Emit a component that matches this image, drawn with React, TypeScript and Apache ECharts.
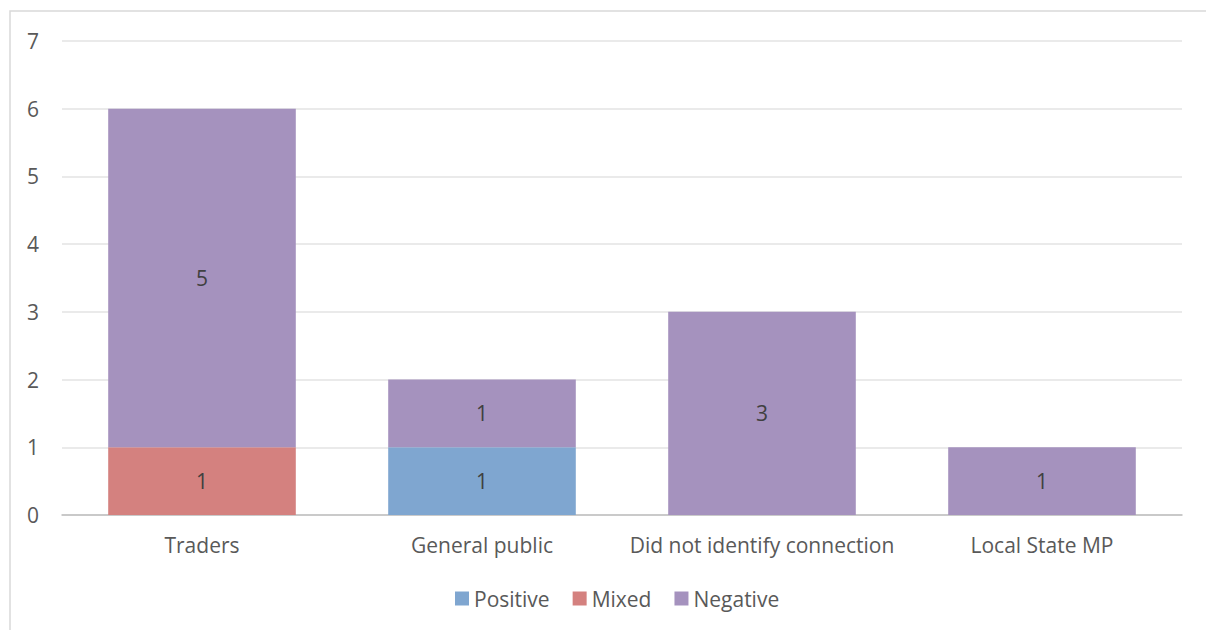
import React, { useEffect, useRef } from "react";
import * as echarts from "echarts";

const categories = ["Traders", "General public", "Did not identify connection", "Local State MP"];
const positiveValues = [0, 1, 0, 0];
const mixedValues = [1, 0, 0, 0];
const negativeValues = [5, 1, 3, 1];
const seriesNames = ["Positive", "Mixed", "Negative"];
const seriesColors = ["#7FA6D0", "#D4817F", "#A592BE"];

const FONT = "'Open Sans', 'Noto Sans', sans-serif";

export default function App() {
  const ref = useRef<HTMLDivElement>(null);
  useEffect(() => {
    if (!ref.current) return;
    const chart = echarts.init(ref.current, null, { renderer: "svg" });
    const dataSets = [positiveValues, mixedValues, negativeValues];
    chart.setOption({
      animation: false,
      backgroundColor: "#ffffff",
      textStyle: { fontFamily: FONT },
      graphic: [
        {
          type: "rect",
          shape: { x: 10, y: 11, width: 1220, height: 650 },
          style: { fill: "none", stroke: "#D9D9D9", lineWidth: 1.5 },
          silent: true,
          z: -1,
        },
      ],
      grid: { left: 62, right: 24, top: 41, bottom: 115, containLabel: false },
      legend: {
        top: 583,
        left: 450,
        itemWidth: 14,
        itemHeight: 14,
        itemGap: 23,
        icon: "rect",
        textStyle: { fontFamily: FONT, fontSize: 21, color: "#595959" },
        data: seriesNames,
      },
      xAxis: {
        type: "category",
        data: categories,
        axisLine: { lineStyle: { color: "#BFBFBF", width: 1.5 } },
        axisTick: { show: false },
        axisLabel: { fontFamily: FONT, fontSize: 21, color: "#595959", margin: 19, interval: 0 },
      },
      yAxis: {
        type: "value",
        min: 0,
        max: 7,
        interval: 1,
        axisLine: { show: false },
        axisTick: { show: false },
        splitLine: { lineStyle: { color: "#E3E3E3", width: 1.5 } },
        axisLabel: { fontFamily: FONT, fontSize: 21, color: "#595959", margin: 23, align: "right" },
      },
      series: seriesNames.map((name, i) => ({
        name,
        type: "bar",
        stack: "total",
        barWidth: "67%",
        itemStyle: { color: seriesColors[i] },
        label: {
          show: true,
          position: "inside",
          fontFamily: FONT,
          fontSize: 21,
          color: "#404040",
          formatter: (p: any) => (p.value ? String(p.value) : ""),
        },
        data: dataSets[i],
      })),
    });
    return () => chart.dispose();
  }, []);
  return (
    <div
      ref={ref}
      style={{ position: "absolute", left: 0, top: 0, width: 1206, height: 630 }}
    />
  );
}
